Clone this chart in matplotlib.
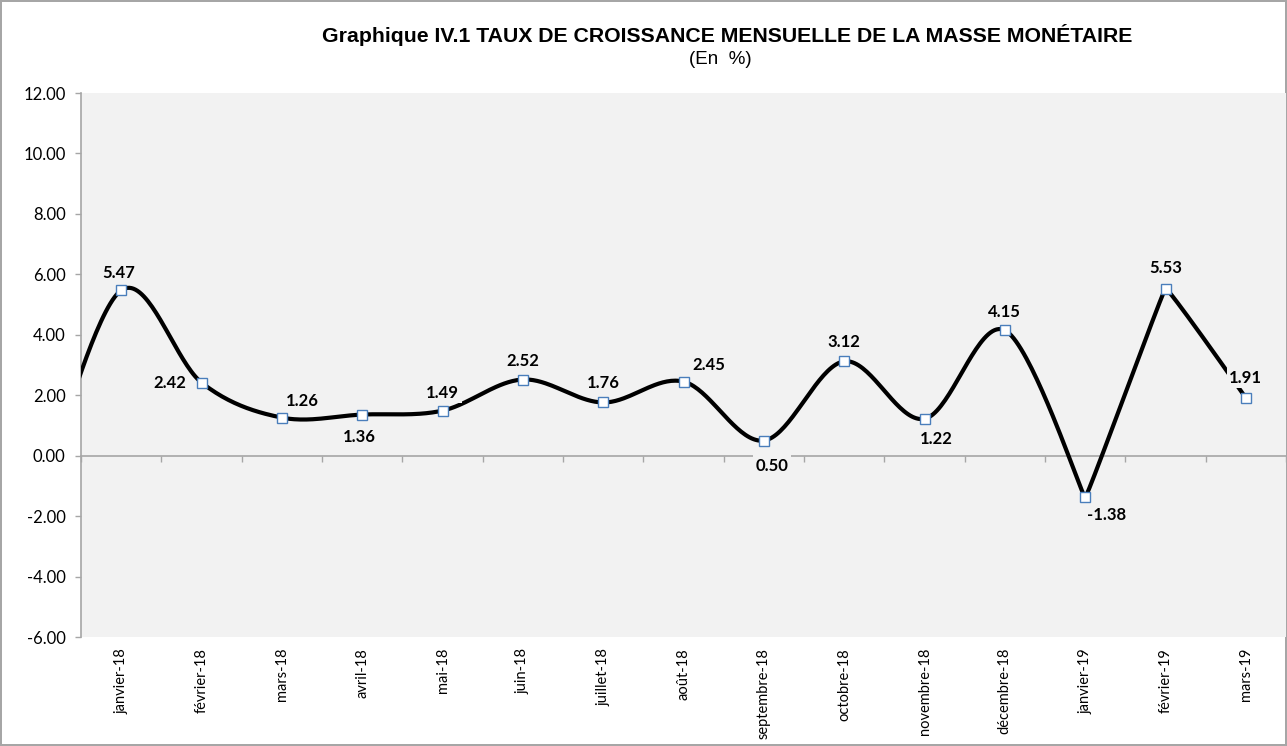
import numpy as np
import matplotlib
matplotlib.use("Agg")
import matplotlib.pyplot as plt

# monthly growth rate of money supply (%)
months = ["janvier-18", "février-18", "mars-18", "avril-18", "mai-18", "juin-18",
          "juillet-18", "août-18", "septembre-18", "octobre-18", "novembre-18",
          "décembre-18", "janvier-19", "février-19", "mars-19"]
growth = [5.47, 2.42, 1.26, 1.36, 1.49, 2.52, 1.76, 2.45, 0.50, 3.12, 1.22, 4.15,
          -1.38, 5.53, 1.91]
# the curve enters from the left edge: previous month (décembre-17), estimated, off-axis
prev_value = -1.3

yticks = [-6, -4, -2, 0, 2, 4, 6, 8, 10, 12]

# label offsets in pixels (dx, dy)
label_offsets = [(-2, 17), (-32, 0), (20, 17), (-3, -22), (0, 18), (0, 19), (0, 19),
                 (25, 17), (8, -25), (0, 19), (12, -20), (0, 18), (21, -18), (0, 21), (0, 20)]
# smoothing strength at each point (prev month first); the 2019 points are drawn almost straight
smoothing = [1, 1, 1, 1, 1, 1, 1, 1, 1, 1, 1, 1, 1, 0.1, 0.1, 0]

FONT = ["Lato", "DejaVu Sans"]


def smooth_curve(xs, ys, k, n=40):
    xs = np.asarray(xs, float)
    ys = np.asarray(ys, float)
    k = np.asarray(k, float)
    npts = len(xs)
    t = np.linspace(0, 1, n)
    h00 = 2 * t ** 3 - 3 * t ** 2 + 1
    h10 = t ** 3 - 2 * t ** 2 + t
    h01 = -2 * t ** 3 + 3 * t ** 2
    h11 = t ** 3 - t ** 2
    out = []
    for p in (xs, ys):
        pad = np.concatenate([[p[0]], p, [p[-1]]])
        m = k * (pad[2:] - pad[:-2]) / 2
        seg = []
        for i in range(npts - 1):
            seg.append(h00 * p[i] + h10 * m[i] + h01 * p[i + 1] + h11 * m[i + 1])
        out.append(np.concatenate(seg))
    return out[0], out[1]


fig = plt.figure(figsize=(12.87, 7.46), dpi=100)
fig.patch.set_facecolor("white")
fig.patch.set_edgecolor("#a6a6a6")
fig.patch.set_linewidth(1.5)

ax = fig.add_axes([81 / 1287, 1 - 637 / 746, 1205 / 1287, 544 / 746])
ax.set_facecolor("#f2f2f2")

x = np.arange(len(months))
sx, sy = smooth_curve(np.concatenate([[-1], x]), [prev_value] + growth, smoothing)
ax.plot(sx, sy, color="black", lw=3, zorder=3, solid_capstyle="round")
ax.plot(x, growth, ls="none", marker="s", ms=7, mfc="white", mec="#4a7ebb",
        mew=1, zorder=4)

for xi, v, (dx, dy) in zip(x, growth, label_offsets):
    ax.annotate(f"{v:.2f}", (xi, v), xytext=(dx, dy), textcoords="offset pixels",
                ha="center", va="center", fontsize=12, fontweight="bold",
                family=FONT, zorder=5,
                bbox=dict(boxstyle="square,pad=0.15", fc="#f2f2f2", ec="none"))

ax.set_xlim(-0.5, len(months) - 0.5)
ax.set_ylim(-6, 12)
ax.set_yticks(yticks)
ax.set_yticklabels([f"{v:.2f}" for v in yticks], family=FONT, fontsize=12)

# category axis crossing at zero, ticks between categories
ax.spines["bottom"].set_position(("data", 0))
ax.set_xticks(np.arange(-0.5, len(months), 1))
ax.set_xticklabels([])
for s in ["top", "right"]:
    ax.spines[s].set_visible(False)
for s in ["left", "bottom"]:
    ax.spines[s].set_color("#a6a6a6")
    ax.spines[s].set_linewidth(1.2)
ax.tick_params(axis="both", color="#a6a6a6", length=4, width=1, pad=7)

trans = ax.get_xaxis_transform()
for xi, m in zip(x, months):
    ax.text(xi, -0.02, m, transform=trans, rotation=90, ha="center", va="top",
            fontsize=10.5, family=FONT)

fig.text(727 / 1287, 1 - 35 / 746, "Graphique IV.1 TAUX DE CROISSANCE MENSUELLE DE LA MASSE MONÉTAIRE",
         ha="center", va="center", fontsize=15.3, fontweight="bold",
         family=["Liberation Sans", "DejaVu Sans"])
fig.text(720 / 1287, 1 - 60 / 746, "(En  %)", ha="center", va="center", fontsize=13.5,
         family=["Liberation Sans", "DejaVu Sans"])

fig.savefig("out.png", dpi=100, facecolor=fig.get_facecolor(), edgecolor=fig.get_edgecolor())
